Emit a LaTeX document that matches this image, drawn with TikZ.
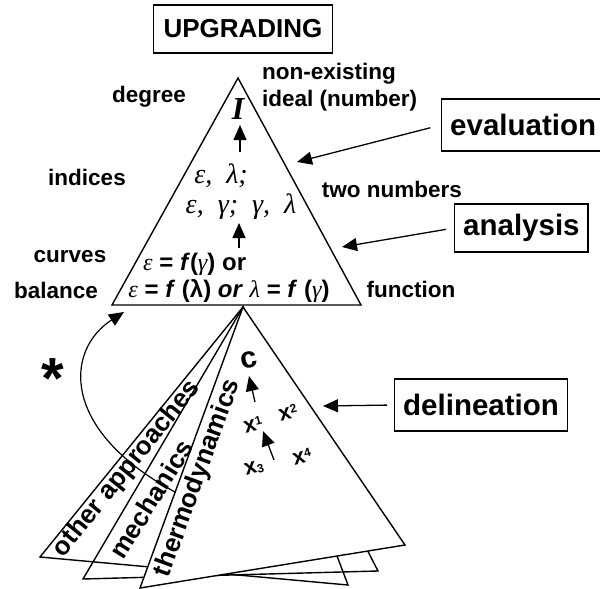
\documentclass[tikz,border=0pt]{standalone}
\usepackage{fontspec}
\setmainfont{Liberation Sans}
\newfontfamily\serifgk{Liberation Serif}
\usetikzlibrary{arrows.meta}

\newcommand\gsym[1]{{\serifgk\mdseries\itshape #1}}
\newcommand\xup[1]{x\raisebox{5pt}{\fontsize{12}{12}\selectfont #1}}
\newcommand\xdown[1]{x\raisebox{-1pt}{\fontsize{12}{12}\selectfont #1}}

\tikzset{
  word/.style={font=\fontsize{22.5}{27}\selectfont\bfseries, inner sep=0pt},
  boxed/.style={draw, line width=1.4pt, inner xsep=8.5pt, inner ysep=0pt, minimum height=52pt,
    font=\fontsize{29.5}{30}\selectfont\bfseries},
  pointer/.style={-{Triangle[length=15pt,width=13pt]}, line width=1.3pt},
  sheet/.style={line width=1.4pt},
  greek/.style={font=\serifgk\itshape\fontsize{28}{28}\selectfont, inner sep=0pt},
  formula/.style={font=\fontsize{24}{24}\selectfont\bfseries, inner sep=0pt},
  edgeword/.style={font=\fontsize{26}{26}\selectfont\bfseries, inner sep=0pt},
  var/.style={font=\fontsize{22}{22}\selectfont\bfseries, inner sep=0pt, rotate=15},
}

\begin{document}
\begin{tikzpicture}[x=1pt,y=-1pt]
  \useasboundingbox (0,0) rectangle (600,589);

  % sheets hanging below the triangle
  \coordinate (foot) at (243,307);
  \coordinate (otherL) at (40,557);
  \coordinate (otherR) at (348,585);
  \coordinate (mechL) at (83,579);
  \coordinate (mechR) at (378,571);
  \coordinate (thermoL) at (140,588);
  \coordinate (thermoR) at (405,545);
  \draw[sheet] (foot) -- (otherL) -- (otherR) -- cycle;
  \draw[sheet] (foot) -- (mechL) -- (mechR) -- cycle;
  \draw[sheet, fill=white] (foot) -- (thermoL) -- (thermoR) -- cycle;

  % upper triangle
  \coordinate (apex) at (238,78);
  \coordinate (baseL) at (112,305);
  \coordinate (baseR) at (361,305);
  \draw[sheet, fill=white] (apex) -- (baseL) -- (baseR) -- cycle;

  % boxes
  \node[boxed, font=\fontsize{26}{26}\selectfont\bfseries, minimum height=48pt, inner xsep=10pt] (upgrading) at (243,29) {UPGRADING};
  \node[boxed, anchor=west] (evaluation) at (441,125) {evaluation};
  \node[boxed, anchor=west, minimum height=48pt] (analysis) at (454,228) {analysis};
  \node[boxed, anchor=west] (delineation) at (394,405) {delineation};

  % words beside the triangle
  \node[word] (degree) at (149,97) {degree};
  \node[word] (indices) at (87,177) {indices};
  \node[word] (curves) at (70,257) {curves};
  \node[word] (balance) at (56,290) {balance};
  \node[word, align=left, anchor=west] (nonexist) at (262,87) {non-existing\\ideal (number)};
  \node[word] (twonum) at (392,189) {two numbers};
  \node[word] (function) at (411,289) {function};

  % inside the triangle
  \node[greek, font=\serifgk\bfseries\itshape\fontsize{32}{32}\selectfont] (ideal) at (238,109) {I};
  \node[greek] (pairA) at (221,176) {ε,\ \ λ;};
  \node[greek] (pairB) at (241,207) {ε,\ \ γ;\ \ γ,\ \ λ};
  \node[formula, anchor=west] (curveA) at (143,264) {\gsym{ε} = \textit{f}(\gsym{γ}) or};
  \node[formula] (curveB) at (229,291) {\gsym{ε} = \textit{f} (λ) \textit{or} \gsym{λ} =\ \textit{f} (\gsym{γ})};
  \coordinate (upA) at (240,152);
  \coordinate (upAend) at (240,125);
  \coordinate (upB) at (239,248);
  \coordinate (upBend) at (239,223);
  \draw[pointer] (upA) -- (upAend);
  \draw[pointer] (upB) -- (upBend);

  % pointers from the boxes
  \coordinate (evalTip) at (297,162);
  \coordinate (anaTip) at (342,247);
  \coordinate (delTip) at (323,406);
  \draw[pointer, shorten <=11pt] (evaluation.west) -- (evalTip);
  \draw[pointer, shorten <=8pt] (analysis.west) -- (anaTip);
  \draw[pointer, shorten <=7pt] (delineation.west) -- (delTip);

  % words along the sheets
  \node[edgeword, rotate=51] (otherword) at (127,469) {other approaches};
  \node[edgeword, rotate=58] (mechword) at (151,499) {mechanics};
  \node[edgeword, rotate=70] (thermoword) at (198,478) {thermodynamics};

  % variables on the front sheet
  \node[font=\fontsize{30}{30}\selectfont\bfseries, inner sep=0pt, rotate=12] (cvar) at (249,360) {c};
  \node[var] (xa) at (253,425) {\xup{1}};
  \node[var] (xb) at (288,413) {\xup{2}};
  \node[var] (xc) at (254,468) {\xdown{3}};
  \node[var] (xd) at (302,457) {\xup{4}};
  \coordinate (toC) at (255,402);
  \coordinate (toCend) at (249,376);
  \coordinate (toX) at (274,460);
  \coordinate (toXend) at (263,431);
  \draw[pointer] (toC) -- (toCend);
  \draw[pointer] (toX) -- (toXend);

  % other approaches feed back
  \node[font=\fontsize{58}{58}\selectfont\bfseries, inner sep=0pt, anchor=north] (star) at (53,358) {*};
  \coordinate (loopStart) at (175,492);
  \coordinate (loopEnd) at (124,312);
  \draw[pointer, line width=1.2pt] (loopStart) .. controls (60,430) and (65,350) .. (loopEnd);
\end{tikzpicture}
\end{document}
